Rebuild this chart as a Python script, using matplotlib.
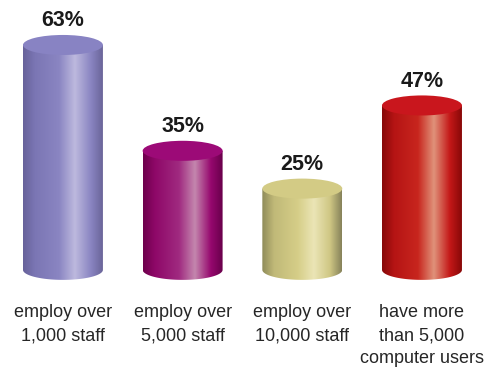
import numpy as np
import matplotlib
matplotlib.use("Agg")
import matplotlib.pyplot as plt
from matplotlib.colors import LinearSegmentedColormap
from matplotlib.patches import Ellipse
from matplotlib.path import Path

categories = ["employ over\n1,000 staff", "employ over\n5,000 staff",
              "employ over\n10,000 staff", "have more\nthan 5,000\ncomputer users"]
values = [63, 35, 25, 47]
labels = ["63%", "35%", "25%", "47%"]

# side shading (left edge -> highlight -> right edge) and top colour per cylinder
side_colors = [
    ["#67629a", "#7b76b4", "#8a85c2", "#bdb9de", "#8a85c2", "#6a6599"],
    ["#6e004c", "#8e0868", "#a02a80", "#c487ae", "#96086e", "#68004a"],
    ["#8f8b5a", "#c0b978", "#d6ce88", "#ebe5b6", "#cfc784", "#86825a"],
    ["#860808", "#b51414", "#c8261e", "#e0927a", "#c41818", "#880808"],
]
top_colors = ["#8883c3", "#9c0a77", "#d3cb85", "#c9161d"]

plt.rcParams['font.family'] = ['Liberation Sans', 'DejaVu Sans']

fig = plt.figure(figsize=(4.89, 3.67), dpi=100)
ax = fig.add_axes([0, 0, 1, 1])
ax.set_xlim(-0.526, 3.56)
ax.set_ylim(-22.2, 74.9)
ax.axis('off')

half_w = 0.334   # cylinder half width
ell_h = 2.65     # half height of the end ellipses
base = 3.5
stops = [0.0, 0.15, 0.45, 0.65, 0.85, 1.0]

t = np.linspace(0, np.pi, 60)
for i, v in enumerate(values):
    x0, x1 = i - half_w, i + half_w
    cmap = LinearSegmentedColormap.from_list("c%d" % i, list(zip(stops, side_colors[i])))
    grad = np.linspace(0, 1, 256).reshape(1, -1)
    im = ax.imshow(grad, cmap=cmap, extent=[x0, x1, base - ell_h, v],
                   aspect='auto', origin='lower', interpolation='bilinear', zorder=2)
    # body outline: straight sides plus rounded bottom
    bx = i + half_w * np.cos(t + np.pi)
    by = base - ell_h * np.sin(t)
    verts = [(x0, v)] + list(zip(bx, by)) + [(x1, v), (x0, v)]
    clip = Path(verts)
    im.set_clip_path(clip, transform=ax.transData)

    top = Ellipse((i, v), 2 * half_w, 2 * ell_h, facecolor=top_colors[i],
                  edgecolor='none', zorder=3)
    ax.add_patch(top)

    ax.text(i, v + 6.4, labels[i], ha='center', va='center', fontsize=15.5,
            fontweight='bold', color='#1a1a1a', zorder=4)
    ax.text(i, -5.6, categories[i], ha='center', va='top', fontsize=13,
            color='#262626', linespacing=1.45, zorder=4)

fig.savefig("out.png", dpi=100)
